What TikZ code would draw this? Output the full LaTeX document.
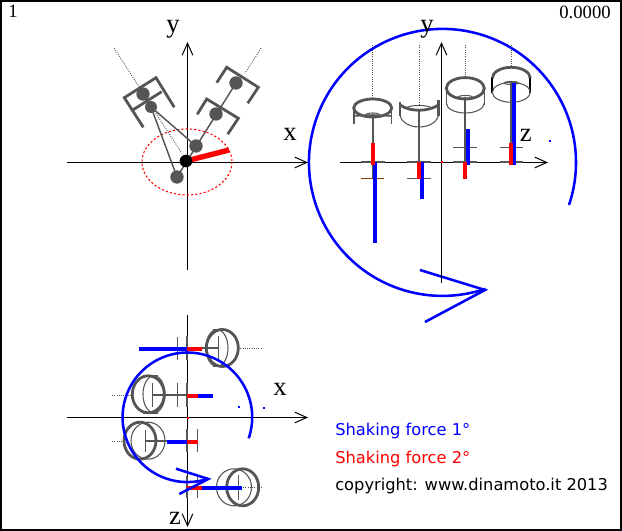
\documentclass[tikz,border=0pt]{standalone}
\usepackage{fontspec}
\setmainfont{Liberation Serif}
\newfontfamily\legendfont{DejaVu Sans}
\usetikzlibrary{arrows.meta}
\definecolor{enginegray}{HTML}{555555}
\definecolor{crankbrown}{HTML}{804000}
\tikzset{
  axisline/.style={draw=black,line width=0.75pt},
  axisarrow/.style={axisline,-{Straight Barb[length=9pt,width=8pt]}},
  pistonthick/.style={draw=enginegray,line width=2.1pt},
  pistonthin/.style={draw=enginegray,line width=0.8pt},
  rodline/.style={draw=enginegray,line width=1.6pt},
  pinline/.style={draw=enginegray,line width=0.75pt},
  centreline/.style={draw=enginegray,line width=0.7pt,densely dotted},
  forceone/.style={draw=blue,line width=3pt},
  forcetwo/.style={draw=red,line width=3pt},
  spiralline/.style={draw=blue,line width=1.9pt},
  journal/.style={circle,fill=enginegray,inner sep=0pt,minimum size=10pt},
  axislabel/.style={font=\fontsize{20}{20}\selectfont,inner sep=0pt},
  legendlabel/.style={font=\legendfont\fontsize{12.2}{14}\selectfont,anchor=west,inner sep=0pt},
}
\begin{document}
\begin{tikzpicture}[x=0.75pt,y=-0.75pt]
  \useasboundingbox (0,0) rectangle (622,531);
  \draw[line width=1.5pt] (1,1) rectangle (621,530);
  \node[inner sep=0pt,font=\fontsize{14}{14}\selectfont] (framenum) at (13,11) {1};
  \node[inner sep=0pt,font=\fontsize{14}{14}\selectfont] (timenum) at (585,12) {0.0000};

  % front view
  \draw[axisarrow] (67,162.5) -- (308,162.5);
  \draw[axisarrow] (187.5,270) -- (187.5,42);
  \node[axislabel] (frontx) at (290,134) {x};
  \node[axislabel] (fronty) at (173,29) {y};
  \draw[red,line width=0.8pt,dash pattern=on 1.6pt off 1.6pt] (187,162) ellipse [x radius=45,y radius=33];
  \draw[centreline] (114.3,48.3) -- (181.7,153.3);
  \draw[centreline] (261,48.3) -- (245,73.3);
  \draw[pistonthick] (216.7,82.7) -- (226.7,67.3) -- (258.3,87.3) -- (247.7,103.3);
  \draw[pistonthick] (197.3,114.3) -- (206.7,99) -- (238.3,118.3) -- (227.7,134.3);
  \draw[pistonthick] (143.3,127.3) -- (124.3,97.7) -- (156,77.7) -- (174.3,107.3);
  \draw[pistonthick] (132.7,110) -- (161.7,91.7);
  \draw[rodline,line width=1.1pt] (177,177) -- (236,83);
  \draw[rodline,line width=1.1pt] (151,107) -- (196,146);
  \draw[rodline,line width=1.1pt] (151,107) -- (143,94);
  \draw[rodline,line width=1.1pt] (151,107) -- (177,177);
  \node[journal] (pinright) at (236,83) {};
  \node[journal] (pinrightlow) at (216,114) {};
  \node[journal] (pinleft) at (143,94) {};
  \node[journal,minimum size=9pt] (pinleftlow) at (151,107) {};
  \node[journal] (crankup) at (196,146) {};
  \node[journal] (crankdown) at (177,177) {};
  \draw[red,line width=4pt] (186,161) -- (229,150);
  \node[circle,fill=black,inner sep=0pt,minimum size=9.5pt] (crankcentre) at (186,161) {};

  % side view
  \draw[centreline] (372.7,45) -- (372.7,100);
  \draw[centreline] (419,45) -- (419,106);
  \draw[centreline] (465.3,45) -- (465.3,78);
  \draw[centreline] (511.3,45) -- (511.3,67);
  \draw[spiralline] (569,205) arc [start angle=18.6,end angle=-288.8,radius=133.5];
  \draw[spiralline] (420,270) -- (485,290) -- (425,322);
  \draw[axisarrow] (340,162.5) -- (548,162.5);
  \draw[axisarrow] (441.5,283) -- (441.5,42);
  \node[axislabel] (sidey) at (427,29) {y};
  \node[axislabel] (sidez) at (525.7,135) {z};
  \fill[blue] (549,140) rectangle (551,142);
  \fill[red] (441,161) rectangle (443,163);
  % piston 1
  \draw[pistonthick] (372.7,108) ellipse [x radius=19,y radius=9];
  \draw[pistonthick,line width=1.4pt] (354,108) -- (354,124) (391.5,108) -- (391.5,124);
  \draw[pistonthick,line width=1.2pt] (354,116) -- (372.7,115) -- (391.5,116);
  \draw[pistonthin] (372.7,115) ellipse [x radius=7,y radius=2];
  \draw[crankbrown,line width=0.8pt] (361,178.3) -- (384,178.3);
  \draw[rodline] (372.7,115) -- (372.7,178);
  \draw[rodline] (361,162) -- (385,162);
  % piston 2
  \draw[pistonthick] (400,102) -- (400,116) (438.5,100) -- (438.5,116);
  \draw[pistonthick] (400,105) .. controls (410,112) and (428,112) .. (438.5,105);
  \draw[pistonthin] (400,114) arc [start angle=180,end angle=0,x radius=19.2,y radius=13];
  \draw[pistonthin] (419,108) ellipse [x radius=12,y radius=2.5];
  \draw[pinline] (407,178.5) -- (431,178.5);
  \draw[rodline] (419,110) -- (419,178);
  \draw[rodline] (407,162) -- (431,162);
  % piston 3
  \draw[pistonthick] (465.3,88.3) ellipse [x radius=19,y radius=10.7];
  \draw[pistonthick,line width=1.2pt] (446.3,88.3) -- (446.3,105) (484.3,88.3) -- (484.3,105);
  \draw[pistonthin] (446.3,103) arc [start angle=180,end angle=0,x radius=19,y radius=10];
  \draw[pistonthin] (465.3,97) ellipse [x radius=7,y radius=1.5];
  \draw[pinline] (453,147.5) -- (477,147.5);
  \draw[rodline] (465.3,97) -- (465.3,162);
  \draw[rodline] (453,162) -- (477,162);
  % piston 4
  \draw[pistonthick] (492.3,78.3) arc [start angle=180,end angle=360,x radius=19,y radius=11];
  \draw[black,line width=1.5pt] (492.3,78.3) -- (492.3,93) (530.3,78.3) -- (530.3,93);
  \draw[pistonthin] (511.3,92.3) ellipse [x radius=19,y radius=10];
  \draw[pistonthin] (511.3,83) ellipse [x radius=7,y radius=1.5];
  \draw[pinline] (500,147.5) -- (523,147.5);
  \draw[rodline] (511.3,83) -- (511.3,162);
  \draw[rodline] (500,162) -- (523,162);
  % forces on the side view
  \draw[forceone] (375,162) -- (375,243);
  \draw[forcetwo] (373,143) -- (373,165);
  \draw[forceone] (422,162) -- (422,199);
  \draw[forcetwo] (419,162) -- (419,179);
  \draw[forceone] (467.7,129) -- (467.7,165);
  \draw[forcetwo] (465,162) -- (465,179);
  \draw[forceone] (513.7,83) -- (513.7,165);
  \draw[forcetwo] (511,143) -- (511,165);

  % top view
  \draw[axisarrow] (67,417.5) -- (308,417.5);
  \draw[axisarrow] (187.5,315) -- (187.5,527);
  \node[axislabel] (topx) at (280,389) {x};
  \node[axislabel] (topz) at (175,518) {z};
  \draw[centreline] (238,348) -- (262,348);
  \draw[centreline] (112,395) -- (133,395);
  \draw[centreline] (112,441) -- (125,441);
  \draw[centreline] (243,487.7) -- (262,487.7);
  % piston A
  \draw[pistonthick] (222.3,348) ellipse [x radius=16,y radius=18.5];
  \draw[pistonthin] (217,348) ellipse [x radius=11,y radius=18.5];
  \draw[pistonthick,line width=1.2pt] (213,329.5) -- (227,329.5) (213,366.5) -- (227,366.5);
  \draw[pinline] (218,336) -- (218,359);
  \draw[pinline] (177,337) -- (177,360);
  \draw[rodline] (187.3,336) -- (187.3,360);
  \draw[rodline] (187.3,348) -- (218,348);
  % piston B
  \draw[pistonthick] (148.3,394.3) ellipse [x radius=16,y radius=18.5];
  \draw[pistonthin] (154,394.3) ellipse [x radius=11,y radius=18.5];
  \draw[pistonthick,line width=1.2pt] (143,376) -- (158,376) (143,413) -- (158,413);
  \draw[pinline] (152.7,383) -- (152.7,407);
  \draw[pinline] (177,383) -- (177,407);
  \draw[rodline] (187.3,383) -- (187.3,407);
  \draw[rodline] (153,395) -- (187.3,395);
  % piston C
  \draw[pistonthin] (148,440.7) ellipse [x radius=17,y radius=18.5];
  \draw[pistonthick] (140,440.7) ellipse [x radius=16,y radius=18.5];
  \draw[pinline] (145,430) -- (145,452);
  \draw[pinline] (197.7,429) -- (197.7,452);
  \draw[rodline] (187.3,429) -- (187.3,452);
  \draw[rodline] (145,441) -- (187.3,441);
  % piston D
  \draw[pistonthin] (234,487.3) ellipse [x radius=17.5,y radius=18.5];
  \draw[pistonthick] (242.7,487.3) ellipse [x radius=16,y radius=18.5];
  \draw[pinline] (238,475) -- (238,500);
  \draw[pinline] (197.7,476) -- (197.7,498);
  \draw[rodline] (187.3,476) -- (187.3,498);
  % forces on the top view
  \draw[forceone] (139,349) -- (187,349);
  \draw[forcetwo] (187,349) -- (202,349);
  \draw[forceone] (187,396) -- (213,396);
  \draw[forcetwo] (187,396) -- (198,396);
  \draw[forceone] (167,441.7) -- (187,441.7);
  \draw[forcetwo] (187,441.7) -- (198,441.7);
  \draw[forceone] (187,487.7) -- (242,487.7);
  \draw[forcetwo] (187,487.7) -- (202,487.7);
  \draw[spiralline] (248.7,438.3) arc [start angle=18.9,end angle=-288.8,radius=64.8];
  \draw[spiralline] (176,468.7) -- (208.3,479) -- (179.3,494);
  \fill[blue] (238,406) rectangle (240,408);
  \fill[blue] (263,407) rectangle (265,409);
  \fill[red] (187,417) rectangle (189,419);

  % legend
  \node[legendlabel,text=blue] (legendone) at (335,431.5) {Shaking force 1°};
  \node[legendlabel,text=red] (legendtwo) at (335,459.5) {Shaking force 2°};
  \node[legendlabel,text=black] (legendcopy) at (335,486.5) {copyright: www.dinamoto.it 2013};
\end{tikzpicture}
\end{document}
